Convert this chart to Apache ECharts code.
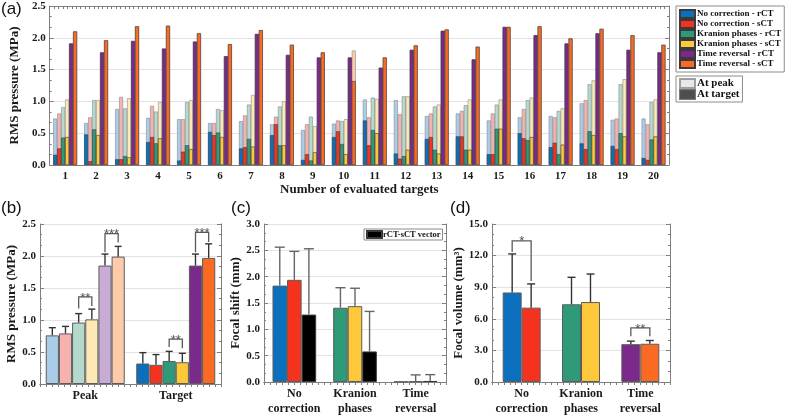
<!DOCTYPE html>
<html><head><meta charset="utf-8">
<script src="https://cdn.jsdelivr.net/npm/echarts@6/dist/echarts.min.js"></script>
<style>html,body{margin:0;padding:0;background:#fff}#c{width:789px;height:416px}</style>
</head><body><div id="c"></div>
<script>
// ---------- DATA ----------
const targets = ['1','2','3','4','5','6','7','8','9','10','11','12','13','14','15','16','17','18','19','20'];
const seriesNames = ['No correction - rCT','No correction - sCT','Kranion phases - rCT','Kranion phases - sCT','Time reversal - rCT','Time reversal - sCT'];

const peakNoCorrRCT   = [0.73,0.66,0.88,0.74,0.72,0.66,0.69,0.64,0.55,0.65,1.03,1.02,0.77,0.81,0.70,0.75,0.77,0.97,0.71,0.73];
const targetNoCorrRCT = [0.16,0.48,0.09,0.36,0.07,0.52,0.26,0.47,0.08,0.44,0.70,0.18,0.41,0.45,0.17,0.50,0.28,0.34,0.30,0.11];
const peakNoCorrSCT   = [0.81,0.75,1.07,0.93,0.72,0.66,0.78,0.76,0.64,0.70,0.75,0.80,0.81,0.85,0.81,0.88,0.75,1.02,0.73,0.64];
const targetNoCorrSCT = [0.26,0.06,0.09,0.44,0.21,0.47,0.28,0.64,0.17,0.53,0.31,0.10,0.44,0.45,0.17,0.42,0.35,0.25,0.25,0.08];
const peakKranionRCT   = [0.91,1.02,0.89,0.84,0.99,0.88,0.95,0.92,0.76,0.69,1.06,1.08,0.92,0.94,0.95,1.02,0.85,1.27,1.27,0.99];
const targetKranionRCT = [0.43,0.56,0.14,0.34,0.31,0.51,0.41,0.31,0.07,0.33,0.55,0.14,0.24,0.24,0.57,0.39,0.17,0.53,0.50,0.40];
const peakKranionSCT   = [1.03,1.02,1.05,0.99,1.02,0.86,1.10,1.00,0.61,0.72,1.04,1.08,0.95,1.03,1.03,1.06,0.89,1.33,1.35,1.03];
const targetKranionSCT = [0.44,0.47,0.12,0.42,0.25,0.44,0.29,0.31,0.20,0.17,0.50,0.24,0.18,0.24,0.57,0.44,0.32,0.47,0.45,0.45];
const peakTimeRevRCT   = [1.91,1.77,1.95,1.83,1.94,1.71,2.06,1.73,1.69,1.69,1.53,1.81,2.11,1.66,2.17,2.04,1.91,2.07,1.81,1.77];
const targetTimeRevRCT = [1.91,1.77,1.95,1.83,1.94,1.71,2.06,1.73,1.69,1.69,1.53,1.81,2.11,1.66,2.17,2.04,1.91,2.07,1.81,1.77];
const peakTimeRevSCT   = [2.10,1.96,2.18,2.19,2.07,1.90,2.12,1.89,1.77,1.80,1.69,1.88,2.13,1.86,2.17,2.18,1.99,2.14,2.04,1.89];
const targetTimeRevSCT = [2.10,1.96,2.18,2.19,2.07,1.90,2.12,1.89,1.77,1.32,1.69,1.88,2.13,1.86,2.17,2.18,1.99,2.14,2.04,1.89];

const summaryCats = ['Peak','Target'];
const summaryPeakMean   = [0.76,0.79,0.96,1.01,1.85,1.99];
const summaryPeakSD     = [0.12,0.11,0.14,0.16,0.18,0.16];
const summaryTargetMean = [0.32,0.30,0.36,0.34,1.85,1.97];
const summaryTargetSD   = [0.17,0.16,0.15,0.14,0.18,0.22];
// [category, barA, barB, top, legA bottom, legB bottom]
const pressureBrackets = [[0,2,3,1.36,1.18,1.22],[0,4,5,2.35,2.06,2.21],[1,2,3,0.70,0.58,0.56],[1,4,5,2.37,2.06,2.22]];
const pressureBracketLabels = ['**','***','**','***'];

const methodCats = ['No\ncorrection','Kranion\nphases','Time\nreversal'];
const shiftRCT = [1.83,1.41,0.005];   const shiftRCTSD = [0.73,0.38,0];
const shiftSCT = [1.94,1.44,0.015];   const shiftSCTSD = [0.54,0.34,0.12];
const shiftVector = [1.28,0.58,0.02]; const shiftVectorSD = [1.25,0.76,0.12];

const volumeRCT = [8.50,7.38,3.59]; const volumeRCTSD = [3.66,2.56,0.29];
const volumeSCT = [7.06,7.59,3.63]; const volumeSCTSD = [2.25,2.66,0.31];
const volumeBrackets = [[0,0,1,13.4,12.35,9.6],[2,0,1,5.13,4.35,4.35]];
const volumeBracketLabels = ['*','**'];

// ---------- STYLE ----------
const darkColors  = ['#0b6fbd','#f5321e','#2e9a78','#fdc93a','#7b2a8b','#fb6a23'];
const lightColors = ['#a9cde8','#f7b2b0','#b4dacd','#fde9b5','#c9acd6','#fdcbaa'];
const serif = 'Liberation Serif';
const AX = '#7f7f7f';
const tickFont = {fontFamily: serif, fontWeight: 'bold', fontSize: 11, color: '#1a1a1a'};
const nameFont = {fontFamily: serif, fontWeight: 'bold', fontSize: 13, color: '#1a1a1a'};

function leftY(grid, max, interval, name, gap, digits) {
  return {type:'value', gridIndex:grid, position:'left', min:0, max, interval,
    name, nameLocation:'middle', nameGap:gap, nameRotate:90, nameTextStyle:nameFont,
    axisLine:{show:true, lineStyle:{color:AX}},
    axisTick:{show:true, inside:true, length:4, lineStyle:{color:AX}},
    minorTick:{show:true, splitNumber:3, length:2, lineStyle:{color:AX}},
    splitLine:{show:true, lineStyle:{color:'#e3e3e3'}},
    axisLabel:Object.assign({}, tickFont, {margin:4, formatter: v => v.toFixed(digits)})};
}
function rightY(grid, max, interval) {
  return {type:'value', gridIndex:grid, position:'right', min:0, max, interval,
    axisLine:{show:true, lineStyle:{color:AX}},
    axisTick:{show:true, inside:true, length:4, lineStyle:{color:AX}},
    minorTick:{show:true, splitNumber:3, length:2, lineStyle:{color:AX}},
    splitLine:{show:false}, axisLabel:{show:false}};
}
function topX(grid, max, split) {
  return {type:'value', gridIndex:grid, position:'top', min:0, max, interval:1,
    axisLine:{show:true, lineStyle:{color:AX}},
    axisTick:{show:true, inside:true, length:3, lineStyle:{color:AX}},
    minorTick:{show:true, splitNumber:split, length:3, lineStyle:{color:AX}},
    splitLine:{show:false}, axisLabel:{show:false}};
}
function catX(grid, data, extra) {
  return Object.assign({type:'category', gridIndex:grid, data, position:'bottom',
    axisLine:{show:true, lineStyle:{color:AX}}, axisTick:{show:false},
    splitLine:{show:false}}, extra);
}
function barOffset(api, n, s, gap) {
  const band = api.size([1, 0])[0];
  const bw = band * (1 - gap) / n;
  return (s - (n - 1) / 2) * bw;
}
function errorBars(xi, yi, n, s, gap, means, sds, color, cap, lw) {
  return {type:'custom', xAxisIndex:xi, yAxisIndex:yi, z:6, silent:true,
    data: means.map((m, i) => [i, m, m + sds[i]]),
    renderItem: (params, api) => {
      const c = api.value(0), m = api.value(1), t = api.value(2);
      if (!(t > m)) return null;
      const p0 = api.coord([c, m]), p1 = api.coord([c, t]);
      const x = p0[0] + barOffset(api, n, s, gap);
      const st = {stroke:color, lineWidth:lw};
      return {type:'group', children:[
        {type:'line', shape:{x1:x, y1:p0[1], x2:x, y2:p1[1]}, style:st},
        {type:'line', shape:{x1:x - cap/2, y1:p1[1], x2:x + cap/2, y2:p1[1]}, style:st}
      ]};
    }};
}
function brackets(xi, yi, n, gap, rows, labels) {
  return {type:'custom', xAxisIndex:xi, yAxisIndex:yi, z:7, silent:true,
    data: rows,
    renderItem: (params, api) => {
      const c = api.value(0), a = api.value(1), b = api.value(2);
      const pT = api.coord([c, api.value(3)]), pA = api.coord([c, api.value(4)]), pB = api.coord([c, api.value(5)]);
      const xA = pT[0] + barOffset(api, n, a, gap), xB = pT[0] + barOffset(api, n, b, gap);
      return {type:'group', children:[
        {type:'polyline', shape:{points:[[xA,pA[1]],[xA,pT[1]],[xB,pT[1]],[xB,pB[1]]]},
          style:{stroke:'#5a5a5a', lineWidth:1.3, fill:null}},
        {type:'text', style:{text:labels[params.dataIndex], x:(xA+xB)/2, y:pT[1]+1,
          align:'center', verticalAlign:'middle', font:'13px "Liberation Sans"', fill:'#555'}}
      ]};
    }};
}

const gapA = 0.23, gapB = 0.127, gapC = 0.28, gapD = 0.36;
const peakArrays = [peakNoCorrRCT, peakNoCorrSCT, peakKranionRCT, peakKranionSCT, peakTimeRevRCT, peakTimeRevSCT];
const targetArrays = [targetNoCorrRCT, targetNoCorrSCT, targetKranionRCT, targetKranionSCT, targetTimeRevRCT, targetTimeRevSCT];

const series = [];
// (a) peak bars (light) on axis 0, target bars (dark) on axis 1
peakArrays.forEach((arr, s) => series.push({type:'bar', name:'peak ' + seriesNames[s], xAxisIndex:0, yAxisIndex:0,
  data:arr, barCategoryGap:(gapA*100)+'%', barGap:'0%', silent:true, z:2,
  itemStyle:{color:lightColors[s], borderColor:'#8a8a8a', borderWidth:0.6}}));
targetArrays.forEach((arr, s) => series.push({type:'bar', name:seriesNames[s], xAxisIndex:1, yAxisIndex:0,
  data:arr, barCategoryGap:(gapA*100)+'%', barGap:'0%', silent:true, z:3,
  itemStyle:{color:darkColors[s], borderColor:'#3a3a3a', borderWidth:0.6}}));
series.push({type:'scatter', name:'At peak', xAxisIndex:0, yAxisIndex:0, data:[],
  itemStyle:{color:'#e2e2e2', borderColor:'#8a8a8a', borderWidth:1}});
series.push({type:'scatter', name:'At target', xAxisIndex:0, yAxisIndex:0, data:[],
  itemStyle:{color:'#222', borderColor:'#555', borderWidth:1}});

// (b)
for (let s = 0; s < 6; s++) {
  series.push({type:'bar', name:'sum ' + s, xAxisIndex:3, yAxisIndex:2, silent:true,
    barCategoryGap:(gapB*100)+'%', barGap:'0%',
    itemStyle:{borderColor:'#5c5c5c', borderWidth:1},
    data:[{value:summaryPeakMean[s], itemStyle:{color:lightColors[s]}},
          {value:summaryTargetMean[s], itemStyle:{color:darkColors[s]}}]});
}
for (let s = 0; s < 6; s++) {
  series.push(errorBars(3, 2, 6, s, gapB, [summaryPeakMean[s], summaryTargetMean[s]],
    [summaryPeakSD[s], summaryTargetSD[s]], '#333', 7, 1.4));
}
series.push(brackets(3, 2, 6, gapB, pressureBrackets, pressureBracketLabels));

// (c)
const cRCTColors = [darkColors[0], darkColors[2], darkColors[4]];
const cSCTColors = [darkColors[1], darkColors[3], darkColors[5]];
series.push({type:'bar', name:'shift rCT', xAxisIndex:5, yAxisIndex:4, silent:true,
  barCategoryGap:(gapC*100)+'%', barGap:'0%', itemStyle:{borderColor:'#5c5c5c', borderWidth:1},
  data:shiftRCT.map((v,i)=>({value:v, itemStyle:{color:cRCTColors[i]}}))});
series.push({type:'bar', name:'shift sCT', xAxisIndex:5, yAxisIndex:4, silent:true,
  barCategoryGap:(gapC*100)+'%', barGap:'0%', itemStyle:{borderColor:'#5c5c5c', borderWidth:1},
  data:shiftSCT.map((v,i)=>({value:v, itemStyle:{color:cSCTColors[i]}}))});
series.push({type:'bar', name:'rCT-sCT vector', xAxisIndex:5, yAxisIndex:4, silent:true,
  barCategoryGap:(gapC*100)+'%', barGap:'0%', itemStyle:{color:'#000', borderColor:'#3a3a3a', borderWidth:1},
  data:shiftVector});
series.push(errorBars(5, 4, 3, 0, gapC, shiftRCT, shiftRCTSD, '#666', 10, 1.4));
series.push(errorBars(5, 4, 3, 1, gapC, shiftSCT, shiftSCTSD, '#666', 10, 1.4));
series.push(errorBars(5, 4, 3, 2, gapC, shiftVector, shiftVectorSD, '#666', 10, 1.4));

// (d)
series.push({type:'bar', name:'vol rCT', xAxisIndex:7, yAxisIndex:6, silent:true,
  barCategoryGap:(gapD*100)+'%', barGap:'0%', itemStyle:{borderColor:'#5c5c5c', borderWidth:1},
  data:volumeRCT.map((v,i)=>({value:v, itemStyle:{color:cRCTColors[i]}}))});
series.push({type:'bar', name:'vol sCT', xAxisIndex:7, yAxisIndex:6, silent:true,
  barCategoryGap:(gapD*100)+'%', barGap:'0%', itemStyle:{borderColor:'#5c5c5c', borderWidth:1},
  data:volumeSCT.map((v,i)=>({value:v, itemStyle:{color:cSCTColors[i]}}))});
series.push(errorBars(7, 6, 2, 0, gapD, volumeRCT, volumeRCTSD, '#333', 8, 1.4));
series.push(errorBars(7, 6, 2, 1, gapD, volumeSCT, volumeSCTSD, '#333', 8, 1.4));
series.push(brackets(7, 6, 2, gapD, volumeBrackets, volumeBracketLabels));

const panelTitle = (t, l, tp) => ({text:t, left:l, top:tp, padding:0,
  textStyle:{fontFamily:'Liberation Sans', fontWeight:'normal', fontSize:17, color:'#111'}});

const option = {
  animation:false,
  backgroundColor:'#fff',
  title:[panelTitle('(a)',1,1), panelTitle('(b)',1,200), panelTitle('(c)',231,200), panelTitle('(d)',450,200)],
  grid:[
    {left:42, top:6, width:627, height:159},
    {left:40, top:224, width:181, height:160},
    {left:264, top:224, width:182, height:160},
    {left:492, top:224, width:178, height:160}
  ],
  legend:[
    {data:seriesNames, left:676, top:6, orient:'vertical', icon:'rect', itemWidth:15, itemHeight:8, itemGap:0,
      padding:[3,3,3,3], backgroundColor:'#fff', borderColor:'#8c8c8c', borderWidth:1, selectedMode:false,
      textStyle:{fontFamily:serif, fontWeight:'bold', fontSize:9, lineHeight:9, color:'#111', padding:[0,0,0,-3]}},
    {data:[{name:'At peak', icon:'rect'},{name:'At target', icon:'rect'}], left:676, top:76, orient:'vertical',
      itemWidth:15, itemHeight:9, itemGap:0, padding:[2,3,2,3], backgroundColor:'#fff', borderColor:'#8c8c8c',
      borderWidth:1, selectedMode:false,
      textStyle:{fontFamily:serif, fontWeight:'bold', fontSize:11, lineHeight:11, color:'#111', padding:[0,0,0,-3]}},
    {data:[{name:'rCT-sCT vector', icon:'rect'}], left:364, top:229, orient:'horizontal',
      itemWidth:15, itemHeight:7, padding:[1,2,1,2], backgroundColor:'#fff', borderColor:'#8c8c8c',
      borderWidth:1, selectedMode:false,
      textStyle:{fontFamily:serif, fontWeight:'bold', fontSize:8.5, lineHeight:8, color:'#111', padding:[0,0,0,-4]}}
  ],
  xAxis:[
    catX(0, targets, {name:'Number of evaluated targets', nameLocation:'middle', nameGap:18, nameTextStyle:nameFont,
      axisLabel:Object.assign({}, tickFont, {interval:0, margin:6})}),
    {type:'category', gridIndex:0, data:targets, show:false},
    topX(0, 20, 7),
    catX(1, summaryCats, {axisLabel:Object.assign({}, tickFont, {fontSize:12, interval:0, margin:6})}),
    topX(1, 6, 5),
    catX(2, methodCats, {axisLabel:Object.assign({}, tickFont, {fontSize:12, lineHeight:15, interval:0, margin:4})}),
    topX(2, 6, 5),
    catX(3, methodCats, {axisLabel:Object.assign({}, tickFont, {fontSize:12, lineHeight:15, interval:0, margin:4})}),
    topX(3, 6, 5)
  ],
  yAxis:[
    leftY(0, 2.5, 0.5, 'RMS pressure (MPa)', 23, 1), rightY(0, 2.5, 0.5),
    leftY(1, 2.5, 0.5, 'RMS pressure (MPa)', 21, 1), rightY(1, 2.5, 0.5),
    leftY(2, 3.0, 0.5, 'Focal shift (mm)', 19, 1), rightY(2, 3.0, 0.5),
    leftY(3, 15, 3, 'Focal volume (mm³)', 27, 1), rightY(3, 15, 3)
  ],
  series
};
const chart = echarts.init(document.getElementById('c'), null, {renderer:'canvas'});
chart.setOption(option);
</script></body></html>
